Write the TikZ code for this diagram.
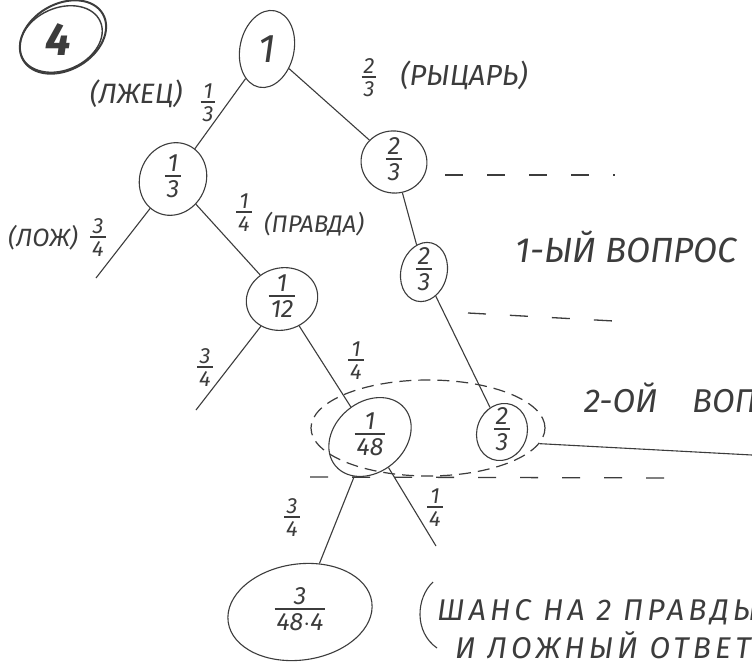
\documentclass[tikz,border=0pt]{standalone}
\usepackage{fontspec}
\setmainfont{Fira Sans}
\usetikzlibrary{shapes.geometric}
\definecolor{ink}{HTML}{3C3C3C}
\setlength{\arrayrulewidth}{1.1pt}
\newcommand{\fr}[2]{\begin{tabular}{@{\hspace{2pt}}c@{\hspace{2pt}}}#1\\[-4pt]\hline\noalign{\vskip 2pt}#2\end{tabular}}
\newcommand{\widespace}{\spaceskip=1.05em plus 0.1em\relax}
\tikzset{
  el/.style={ellipse, draw=ink, line width=1.1pt, inner sep=0pt},
  fracnode/.style={text=ink, font=\fontsize{25}{27}\selectfont\itshape, inner sep=0pt},
  lbl/.style={text=ink, font=\fontsize{22}{24}\selectfont\itshape, inner sep=0pt},
  big/.style={text=ink, font=\fontsize{35}{38}\selectfont\itshape, inner sep=0pt, anchor=west},
  note/.style={text=ink, font=\fontsize{30}{33}\selectfont\itshape\addfontfeatures{LetterSpace=14}, inner sep=0pt, anchor=west},
  edge/.style={draw=ink, line width=1.1pt},
  dsh/.style={draw=ink, line width=1.3pt, dash pattern=on 18pt off 24pt},
}
\begin{document}
\begin{tikzpicture}[x=1pt,y=-1pt]
\useasboundingbox[fill=white] (0,0) rectangle (752,669);
\clip (0,0) rectangle (752,669);

% circled 4
\node[el, line width=2pt, minimum width=92, minimum height=66, rotate=30] (c4) at (63,37) {};
\node[el, line width=1.4pt, minimum width=86, minimum height=62, rotate=24] (c4b) at (61,39) {};
\node[text=ink, font=\fontsize{46}{48}\selectfont\bfseries\itshape, inner sep=0pt] (c4t) at (58,40) {4};

% tree nodes
\node[el, minimum width=54, minimum height=78, rotate=-12] (root) at (267,49) {};
\node[fracnode, font=\fontsize{40}{42}\selectfont\itshape] (roott) at (root) {1};
\node[el, minimum width=66, minimum height=74, rotate=-25] (n13) at (173,179) {};
\node[fracnode] (n13t) at (n13) {\fr{1}{3}};
\node[el, minimum width=66, minimum height=62, rotate=-10] (r1) at (394,162) {};
\node[fracnode] (r1t) at (r1) {\fr{2}{3}};
\node[el, minimum width=46, minimum height=60, rotate=-15] (r2) at (424,272) {};
\node[fracnode] (r2t) at (r2) {\fr{2}{3}};
\node[el, minimum width=72, minimum height=62, rotate=15] (n112) at (282,299) {};
\node[fracnode] (n112t) at (n112) {\fr{1}{12}};
\node[el, minimum width=90, minimum height=70, rotate=40] (n148) at (370,437) {};
\node[fracnode] (n148t) at (n148) {\fr{1}{48}};
\node[el, minimum width=50, minimum height=58, rotate=-20] (r3) at (502,432) {};
\node[fracnode] (r3t) at (r3) {\fr{2}{3}};
\node[el, dashed, dash pattern=on 12pt off 7pt, line width=1.2pt, minimum width=234, minimum height=96] (grp) at (428,428) {};
\node[el, minimum width=145, minimum height=96, rotate=8] (leaf) at (300,612) {};
\node[fracnode] (leaft) at (leaf) {\fr{3}{48$\cdot$4}};

% free ends
\coordinate (l1) at (96,278);
\coordinate (l2) at (196,410);
\coordinate (l3) at (436,546);
\coordinate (s1) at (752,455);
\coordinate (d1a) at (445,175); \coordinate (d1b) at (615,175);
\coordinate (d2a) at (468,313); \coordinate (d2b) at (632,322);
\coordinate (d3a) at (310,477); \coordinate (d3b) at (682,478);

% edges
\draw[edge] (root) -- (n13);
\draw[edge] (root) -- (r1);
\draw[edge] (n13) -- (l1);
\draw[edge] (n13) -- (n112);
\draw[edge] (n112) -- (l2);
\draw[edge] (n112) -- (n148);
\draw[edge] (n148) -- (leaf);
\draw[edge] (n148) -- (l3);
\draw[edge] (r1) -- (r2);
\draw[edge] (r2) -- (r3);
\draw[edge] (grp.-8) -- (s1);

% dashed separators
\draw[dsh] (d1a) -- (d1b);
\draw[dsh] (d2a) -- (d2b);
\draw[dsh] (d3a) -- (d3b);

% edge labels
\node[lbl, font=\fontsize{28}{30}\selectfont\itshape] (lzh) at (136,94) {(ЛЖЕЦ)};
\node[lbl] (f13) at (208,105) {\fr{1}{3}};
\node[lbl] (f23) at (369,80) {\fr{2}{3}};
\node[lbl, font=\fontsize{29}{31}\selectfont\itshape] (ryc) at (464,75) {(РЫЦАРЬ)};
\node[lbl, font=\fontsize{25}{27}\selectfont\itshape] (loz) at (43,238) {(ЛОЖ)};
\node[lbl] (f34a) at (98,240) {\fr{3}{4}};
\node[lbl] (f14a) at (244,215) {\fr{1}{4}};
\node[lbl, font=\fontsize{24}{26}\selectfont\itshape] (prv) at (314,224) {(ПРАВДА)};
\node[lbl] (f34b) at (205,370) {\fr{3}{4}};
\node[lbl] (f14b) at (356,363) {\fr{1}{4}};
\node[lbl] (f34c) at (292,520) {\fr{3}{4}};
\node[lbl] (f14c) at (435,510) {\fr{1}{4}};

% side texts
\node[big] (q1) at (515,247) {1-ЫЙ ВОПРОС};
\node[big, font=\fontsize{33}{36}\selectfont\itshape\widespace] (q2) at (584,398) {2-ОЙ ВОПРОС};
\node[note] (ch1) at (437,612) {ШАНС НА 2 ПРАВДЫ};
\node[note] (ch2) at (455,647) {И ЛОЖНЫЙ ОТВЕТ)};
\draw[edge] (433,582) .. controls (416,598) and (414,632) .. (437,648);
\end{tikzpicture}
\end{document}
